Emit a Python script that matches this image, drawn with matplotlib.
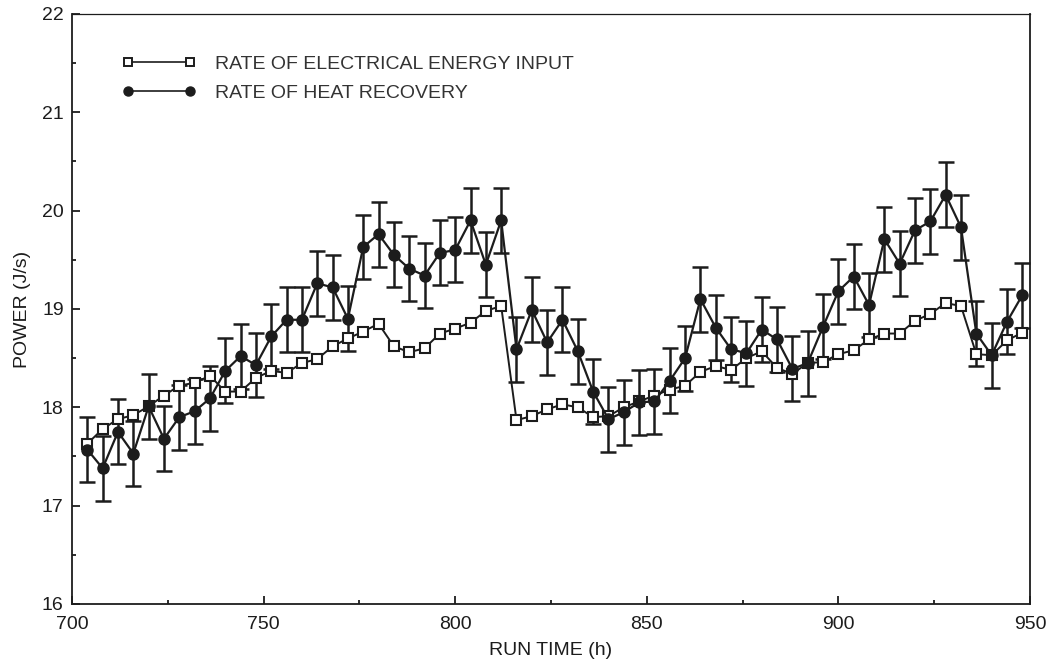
import matplotlib
matplotlib.use("Agg")
import numpy as np
import matplotlib.pyplot as plt
from matplotlib.lines import Line2D
from matplotlib.ticker import MultipleLocator

# run time (h), one reading every 4 h
run_time = list(range(704, 949, 4))

# rate of electrical energy input (J/s), open squares
electrical = [
    17.63, 17.78, 17.88, 17.92, 18.01, 18.12, 18.22, 18.25, 18.32, 18.16,
    18.16, 18.30, 18.37, 18.35, 18.45, 18.49, 18.62, 18.70, 18.77, 18.85,
    18.62, 18.56, 18.60, 18.75, 18.80, 18.86, 18.98, 19.03, 17.87, 17.91,
    17.98, 18.03, 18.00, 17.90, 17.91, 18.00, 18.06, 18.12, 18.18, 18.22,
    18.36, 18.42, 18.38, 18.50, 18.57, 18.40, 18.34, 18.45, 18.46, 18.54,
    18.58, 18.69, 18.75, 18.75, 18.88, 18.95, 19.06, 19.03, 18.54, 18.53,
    18.68, 18.76,
]

# rate of heat recovery (J/s), filled circles
heat = [
    17.57, 17.38, 17.75, 17.53, 18.01, 17.68, 17.90, 17.96, 18.09, 18.37,
    18.52, 18.43, 18.72, 18.89, 18.89, 19.26, 19.22, 18.90, 19.63, 19.76,
    19.55, 19.41, 19.34, 19.57, 19.60, 19.90, 19.45, 19.90, 18.59, 18.99,
    18.66, 18.89, 18.57, 18.16, 17.88, 17.95, 18.05, 18.06, 18.27, 18.50,
    19.10, 18.81, 18.59, 18.55, 18.79, 18.69, 18.39, 18.45, 18.82, 19.18,
    19.33, 19.04, 19.71, 19.46, 19.80, 19.89, 20.16, 19.83, 18.75, 18.53,
    18.87, 19.14,
]
heat_err = 0.33

ink = "#1c1c1c"
plt.rcParams['font.family'] = ['Liberation Sans', 'DejaVu Sans']

fig = plt.figure(figsize=(10.51, 6.66), dpi=100)
ax = fig.add_axes([0.0685, 0.0931, 0.9115, 0.886])

ax.errorbar(run_time, heat, yerr=heat_err, fmt='none', ecolor=ink,
            elinewidth=1.8, capsize=6, capthick=1.8, zorder=2)
ax.plot(run_time, electrical, color=ink, lw=1.4, marker='s', ms=6.5,
        mfc='white', mec=ink, mew=1.5, zorder=3)
ax.plot(run_time, heat, color=ink, lw=1.6, marker='o', ms=8,
        mfc=ink, mec=ink, zorder=4)

ax.set_xlim(700, 950)
ax.set_ylim(16, 22)
ax.xaxis.set_major_locator(MultipleLocator(50))
ax.xaxis.set_minor_locator(MultipleLocator(25))
ax.yaxis.set_major_locator(MultipleLocator(1))
ax.yaxis.set_minor_locator(MultipleLocator(0.5))
ax.tick_params(which='both', direction='in', colors=ink, labelsize=14,
               top=False, right=False)
ax.tick_params(which='major', length=6, width=1.3)
ax.tick_params(which='minor', length=3, width=1.3)
ax.tick_params(axis='x', pad=9)
ax.tick_params(axis='y', pad=6)
for side in ['left', 'bottom', 'right', 'top']:
    ax.spines[side].set_color(ink)
    ax.spines[side].set_linewidth(1.3)
ax.spines['top'].set_linewidth(0.9)

ax.set_xlabel('RUN TIME (h)', fontsize=14, color=ink, labelpad=6)
ax.set_ylabel('POWER (J/s)', fontsize=14, color=ink, labelpad=8)

handles = [
    Line2D([0], [0], color=ink, lw=1.2, marker='s', ms=5.5, mfc='white',
           mec=ink, mew=1.4),
    Line2D([0], [0], color=ink, lw=1.2, marker='o', ms=6.5, mfc=ink, mec=ink),
]
ax.legend(handles, ['RATE OF ELECTRICAL ENERGY INPUT', 'RATE OF HEAT RECOVERY'],
          loc='upper left', bbox_to_anchor=(0.052, 0.93), frameon=False,
          numpoints=2, handlelength=3.8, handletextpad=1.0,
          labelspacing=0.6, borderaxespad=0, borderpad=0,
          fontsize=14, labelcolor='#333333')

fig.savefig('out.png', dpi=100, facecolor='white')
